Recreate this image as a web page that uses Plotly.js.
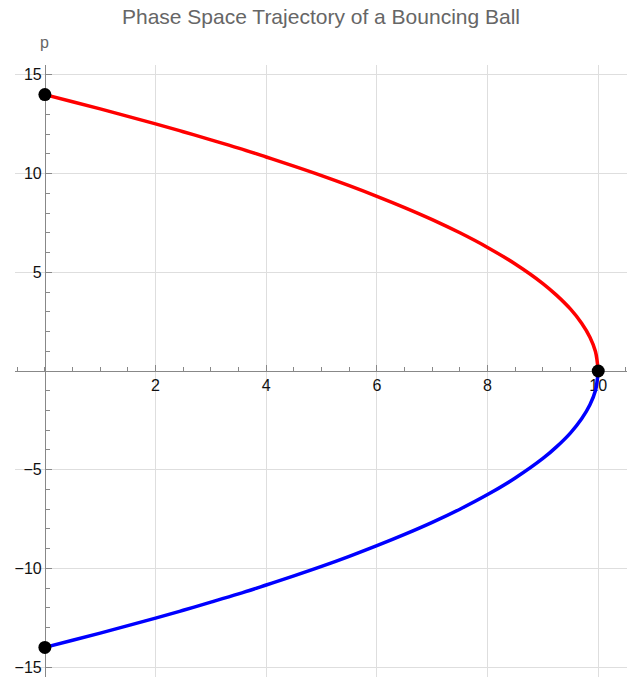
<!DOCTYPE html>
<html>
<head>
<meta charset="utf-8">
<script src="https://cdn.plot.ly/plotly-3.0.1.min.js"></script>
<style>html,body{margin:0;padding:0;background:#fff;}#chart{width:644px;height:679px;}</style>
</head>
<body>
<div id="chart"></div>
<script>
// Position x (height) values read along the trajectory
const posX = [0, 0.5, 1, 1.5, 2, 2.5, 3, 3.5, 4, 4.5, 5, 5.5, 6, 6.5, 7, 7.5, 8, 8.5, 9, 9.25, 9.5, 9.7, 9.85, 9.95, 10];
// Momentum on the upper (red) branch
const redP = [14.0, 13.64, 13.28, 12.9, 12.52, 12.12, 11.71, 11.29, 10.84, 10.38, 9.9, 9.39, 8.85, 8.28, 7.67, 7.0, 6.26, 5.42, 4.43, 3.83, 3.13, 2.42, 1.71, 0.99, 0];
// Momentum on the lower (blue) branch
const blueP = [-14.0, -13.64, -13.28, -12.9, -12.52, -12.12, -11.71, -11.29, -10.84, -10.38, -9.9, -9.39, -8.85, -8.28, -7.67, -7.0, -6.26, -5.42, -4.43, -3.83, -3.13, -2.42, -1.71, -0.99, 0];
// Highlighted points
const dotX = [0, 10, 0];
const dotP = [14, 0, -14];
// Tick labels
const xTicks = [2, 4, 6, 8, 10];
const yTicks = [-15, -10, -5, 5, 10, 15];

const xRange = [-0.54, 10.52];
const yRange = [-15.5, 15.5];
const yAxisPos = (0 - xRange[0]) / (xRange[1] - xRange[0]);
const xAxisPos = (0 - yRange[0]) / (yRange[1] - yRange[0]);

const traces = [
  {x: posX, y: redP, mode: 'lines', line: {color: '#ff0000', width: 3.5, shape: 'spline'}, hoverinfo: 'skip'},
  {x: posX, y: blueP, mode: 'lines', line: {color: '#0000ff', width: 3.5, shape: 'spline'}, hoverinfo: 'skip'},
  {x: dotX, y: dotP, mode: 'markers', marker: {color: '#000', size: 13}, cliponaxis: false, hoverinfo: 'skip'}
];

const layout = {
  width: 644, height: 679,
  margin: {l: 15, r: 17, t: 65, b: 2},
  paper_bgcolor: '#fff', plot_bgcolor: '#fff',
  showlegend: false,
  font: {family: 'Liberation Sans, Arial, sans-serif', color: '#222'},
  title: {text: 'Phase Space Trajectory of a Bouncing Ball', font: {size: 21, color: '#666', family: 'Liberation Sans, Arial, sans-serif'},
          x: 0.5, xanchor: 'center', xref: 'paper', y: 1 - 17/679, yref: 'container', yanchor: 'middle'},
  xaxis: {
    range: xRange, anchor: 'free', position: xAxisPos,
    tickmode: 'array', tickvals: xTicks, ticktext: xTicks.map(String),
    ticks: 'inside', ticklen: 6, tickcolor: '#888', tickwidth: 1,
    showline: true, linecolor: '#888', linewidth: 1,
    showgrid: true, gridcolor: '#dedede', gridwidth: 1, zeroline: false,
    tickfont: {size: 16, color: '#111'},
    minor: {dtick: 0.5, tick0: 0, ticks: 'inside', ticklen: 4, tickcolor: '#888', showgrid: false},
    layer: 'below traces', fixedrange: true
  },
  yaxis: {
    range: yRange, anchor: 'free', position: yAxisPos,
    tickmode: 'array', tickvals: yTicks, ticktext: yTicks.map(v => v < 0 ? '\u2212' + Math.abs(v) : String(v)),
    ticks: 'inside', ticklen: 6, tickcolor: '#888', tickwidth: 1,
    showline: true, linecolor: '#888', linewidth: 1,
    showgrid: true, gridcolor: '#dedede', gridwidth: 1, zeroline: false,
    tickfont: {size: 16, color: '#111'},
    minor: {dtick: 1, tick0: 0, ticks: 'inside', ticklen: 4, tickcolor: '#888', showgrid: false},
    layer: 'below traces', fixedrange: true
  },
  annotations: [
    {text: 'p', xref: 'paper', yref: 'paper', x: yAxisPos, y: 1 + 22/612, xanchor: 'center', yanchor: 'middle',
     showarrow: false, font: {size: 16, color: '#666'}}
  ]
};

Plotly.newPlot('chart', traces, layout, {displayModeBar: false, staticPlot: true});
</script>
</body>
</html>
